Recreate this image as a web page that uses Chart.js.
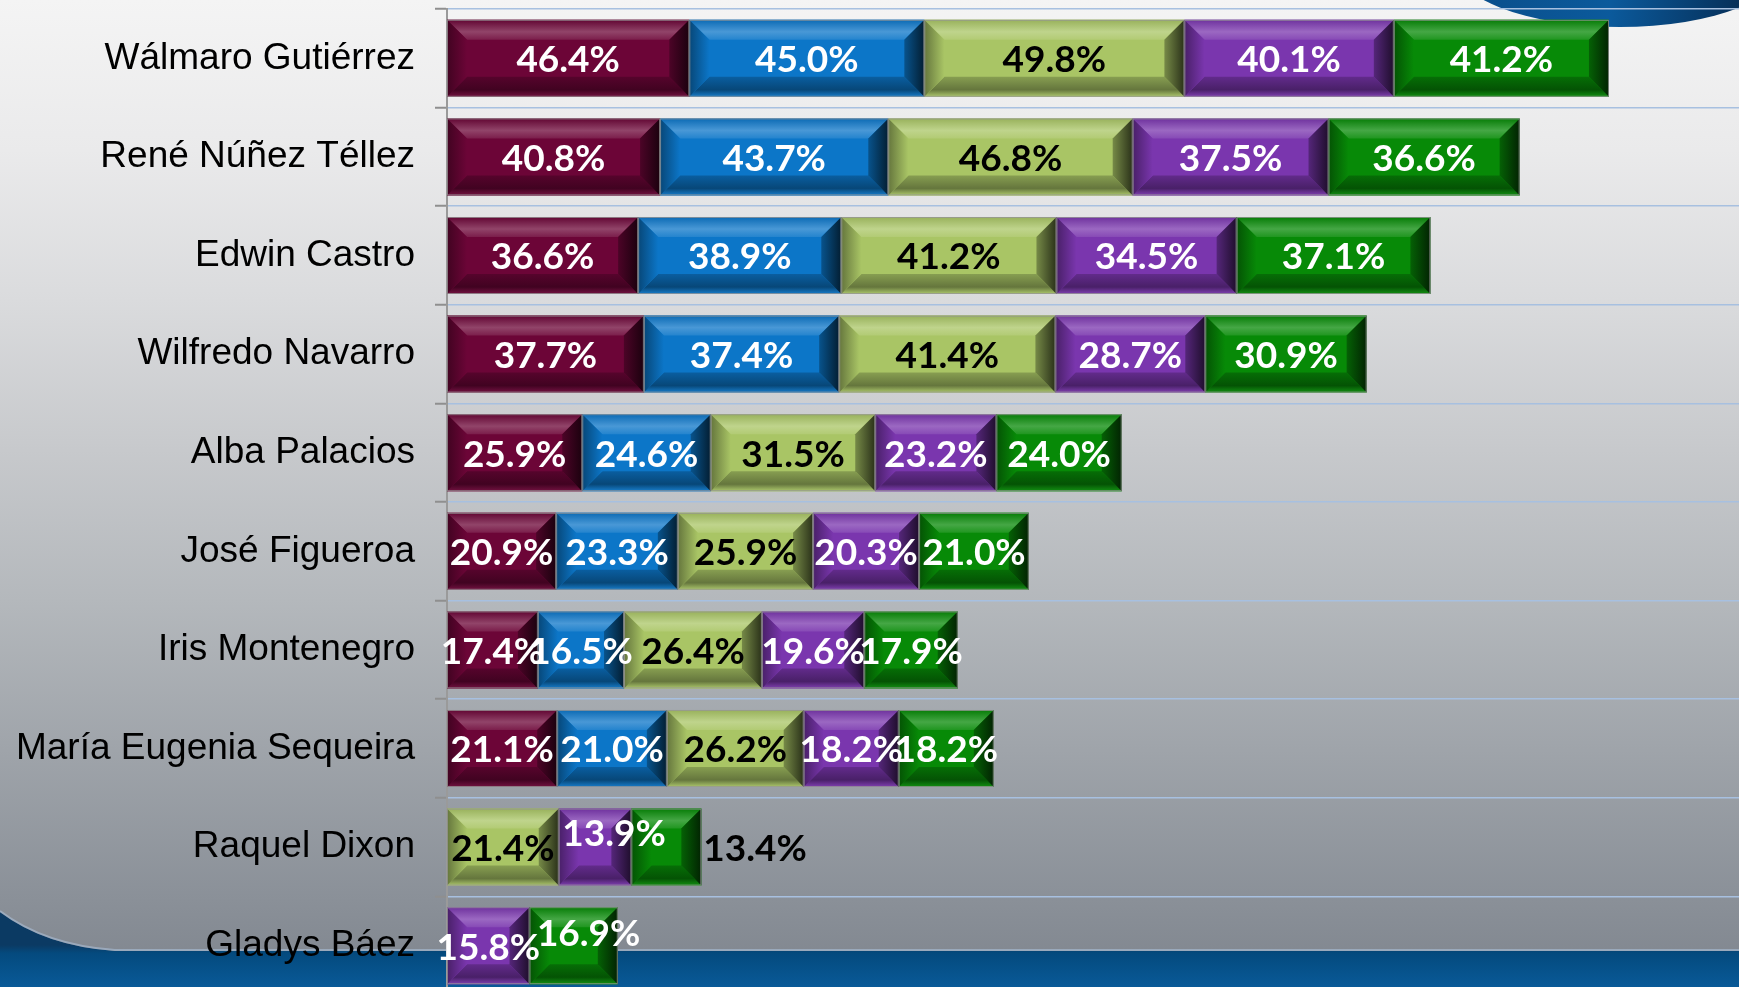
<!DOCTYPE html>
<html>
<head>
<meta charset="utf-8">
<script src="https://cdn.jsdelivr.net/npm/chart.js@4.4.1/dist/chart.umd.min.js"></script>
<style>
  html, body { margin: 0; padding: 0; overflow: hidden; background: #7e848c; }
  #wrap { width: 1739px; height: 1000px; position: relative; }
</style>
</head>
<body>
<div id="wrap"><canvas id="candidatosChart"></canvas></div>
<script>
const candidatos = [
  "Wálmaro Gutiérrez", "René Núñez Téllez", "Edwin Castro", "Wilfredo Navarro",
  "Alba Palacios", "José Figueroa", "Iris Montenegro", "María Eugenia Sequeira",
  "Raquel Dixon", "Gladys Báez"
];
const serie1 = [46.4, 40.8, 36.6, 37.7, 25.9, 20.9, 17.4, 21.1, null, null];
const serie2 = [45.0, 43.7, 38.9, 37.4, 24.6, 23.3, 16.5, 21.0, null, null];
const serie3 = [49.8, 46.8, 41.2, 41.4, 31.5, 25.9, 26.4, 26.2, 21.4, null];
const serie4 = [40.1, 37.5, 34.5, 28.7, 23.2, 20.3, 19.6, 18.2, 13.9, 15.8];
const serie5 = [41.2, 36.6, 37.1, 30.9, 24.0, 21.0, 17.9, 18.2, 13.4, 16.9];

const colores = ["#6c0537", "#0c76c8", "#a9c565", "#7a36ae", "#078a07"];
const coloresTexto = ["#fff", "#fff", "#000", "#fff", "#fff"];

function shade(hex, amt) {
  const n = parseInt(hex.slice(1), 16);
  let r = (n >> 16) & 255, g = (n >> 8) & 255, b = n & 255;
  const t = amt < 0 ? 0 : 255, p = Math.abs(amt);
  r = Math.round(r + (t - r) * p);
  g = Math.round(g + (t - g) * p);
  b = Math.round(b + (t - b) * p);
  return `rgb(${r},${g},${b})`;
}

// fondo con degradado y formas azules
const fondo = {
  id: 'fondo',
  beforeDraw(chart) {
    const ctx = chart.ctx, w = chart.width, h = chart.height;
    ctx.save();
    let g = ctx.createLinearGradient(0, 0, 0, h);
    g.addColorStop(0, '#f4f4f4');
    g.addColorStop(0.15, '#eaeaeb');
    g.addColorStop(0.3, '#dadbdd');
    g.addColorStop(0.45, '#c7c9cc');
    g.addColorStop(0.6, '#b4b8bc');
    g.addColorStop(0.75, '#9fa4aa');
    g.addColorStop(0.9, '#8a9098');
    g.addColorStop(1, '#7c828b');
    ctx.fillStyle = g;
    ctx.fillRect(0, 0, w, h);

    // elipse azul arriba a la derecha
    g = ctx.createLinearGradient(1480, 0, 1739, 30);
    g.addColorStop(0, '#0a4f8c');
    g.addColorStop(0.5, '#0b5a9c');
    g.addColorStop(1, '#062f58');
    ctx.fillStyle = g;
    ctx.beginPath();
    ctx.ellipse(1620, -40, 170, 67, 0, 0, Math.PI * 2);
    ctx.fill();

    // banda azul inferior
    g = ctx.createLinearGradient(0, 945, 0, h);
    g.addColorStop(0, '#0b3a63');
    g.addColorStop(0.15, '#044a7e');
    g.addColorStop(1, '#0b60a2');
    ctx.fillStyle = g;
    ctx.beginPath();
    ctx.moveTo(0, 912);
    ctx.quadraticCurveTo(45, 946, 115, 951);
    ctx.lineTo(w, 951);
    ctx.lineTo(w, h);
    ctx.lineTo(0, h);
    ctx.closePath();
    ctx.fill();
    ctx.strokeStyle = 'rgba(170,190,215,0.6)';
    ctx.lineWidth = 2;
    ctx.beginPath();
    ctx.moveTo(0, 911);
    ctx.quadraticCurveTo(45, 945, 115, 950);
    ctx.lineTo(w, 950);
    ctx.stroke();
    ctx.restore();
  }
};

function bisel(ctx, l, r, t, b, base) {
  const bw = Math.min(20, (r - l) / 2, (b - t) / 2);
  const poly = (pts, fill) => {
    ctx.beginPath();
    ctx.moveTo(pts[0][0], pts[0][1]);
    for (let i = 1; i < pts.length; i++) ctx.lineTo(pts[i][0], pts[i][1]);
    ctx.closePath();
    ctx.fillStyle = fill;
    ctx.fill();
  };
  let g = ctx.createLinearGradient(0, t, 0, t + bw);
  g.addColorStop(0, shade(base, -0.1));
  g.addColorStop(0.6, shade(base, 0.25));
  g.addColorStop(1, shade(base, 0.1));
  poly([[l, t], [r, t], [r - bw, t + bw], [l + bw, t + bw]], g);

  g = ctx.createLinearGradient(0, b, 0, b - bw);
  g.addColorStop(0, shade(base, 0.05));
  g.addColorStop(0.35, shade(base, -0.4));
  g.addColorStop(1, shade(base, -0.2));
  poly([[l, b], [r, b], [r - bw, b - bw], [l + bw, b - bw]], g);

  g = ctx.createLinearGradient(l, 0, l + bw, 0);
  g.addColorStop(0, shade(base, -0.4));
  g.addColorStop(1, shade(base, 0));
  poly([[l, t], [l + bw, t + bw], [l + bw, b - bw], [l, b]], g);

  g = ctx.createLinearGradient(r, 0, r - bw, 0);
  g.addColorStop(0, shade(base, -0.75));
  g.addColorStop(1, shade(base, -0.3));
  poly([[r, t], [r - bw, t + bw], [r - bw, b - bw], [r, b]], g);

  ctx.strokeStyle = 'rgba(150,150,150,0.8)';
  ctx.lineWidth = 1;
  ctx.strokeRect(l + 0.5, t + 0.5, r - l - 1, b - t - 1);
}

// biseles y etiquetas de porcentaje
const etiquetas = {
  id: 'etiquetas',
  afterDatasetsDraw(chart, args, opts) {
    const ctx = chart.ctx;
    ctx.save();
    chart.data.datasets.forEach((ds, i) => {
      chart.getDatasetMeta(i).data.forEach((el, j) => {
        if (ds.data[j] == null) return;
        const p = el.getProps(['x', 'y', 'base', 'height'], true);
        bisel(ctx, Math.min(p.base, p.x), Math.max(p.base, p.x),
          p.y - p.height / 2, p.y + p.height / 2, colores[i]);
      });
    });
    ctx.font = 'bold 37px Lato, "Open Sans", sans-serif';
    ctx.textBaseline = 'middle';
    ctx.textAlign = 'center';
    chart.data.datasets.forEach((ds, i) => {
      chart.getDatasetMeta(i).data.forEach((el, j) => {
        const v = ds.data[j];
        if (v == null) return;
        const p = el.getProps(['x', 'y', 'base'], true);
        const txt = v.toFixed(1) + '%';
        const tw = opts.ajustes.find(a => a.serie === i && a.fila === j) || {};
        let x = (p.base + p.x) / 2 + (tw.dx || 0);
        const y = p.y + 2 + (tw.dy || 0);
        if (tw.fuera) x = p.x + ctx.measureText(txt).width / 2 + 2;
        ctx.fillStyle = tw.color || coloresTexto[i];
        ctx.fillText(txt, x, y);
      });
    });
    ctx.restore();
  }
};

new Chart(document.getElementById('candidatosChart'), {
  type: 'bar',
  data: {
    labels: candidatos,
    datasets: [serie1, serie2, serie3, serie4, serie5].map((d, i) => ({
      label: 'Serie ' + (i + 1),
      data: d,
      backgroundColor: colores[i],
      borderWidth: 0,
      barPercentage: 0.781,
      categoryPercentage: 1
    }))
  },
  options: {
    indexAxis: 'y',
    responsive: true,
    maintainAspectRatio: false,
    animation: false,
    layout: { padding: { top: 9, bottom: 5, left: 0, right: 0 } },
    plugins: {
      legend: { display: false },
      tooltip: { enabled: false },
      etiquetas: {
        ajustes: [
          { serie: 3, fila: 8, dx: 19, dy: -15 },
          { serie: 4, fila: 8, fuera: true, color: '#000' },
          { serie: 4, fila: 9, dx: 15, dy: -14 }
        ]
      }
    },
    scales: {
      x: {
        display: false,
        stacked: true,
        min: 0,
        max: 247.4
      },
      y: {
        stacked: true,
        afterFit(scale) {
          scale.width = 447;
          scale.paddingTop = 0;
          scale.paddingBottom = 0;
        },
        ticks: {
          color: '#000',
          padding: 20,
          font: { family: '"Liberation Sans", Arial, sans-serif', size: 37 }
        },
        grid: {
          color: '#a7c0e0',
          lineWidth: 1.5,
          tickColor: '#8f8f8f',
          tickLength: 12,
          tickWidth: 2
        },
        border: { display: true, color: '#9a9a9a', width: 2 }
      }
    }
  },
  plugins: [fondo, etiquetas]
});
</script>
</body>
</html>
